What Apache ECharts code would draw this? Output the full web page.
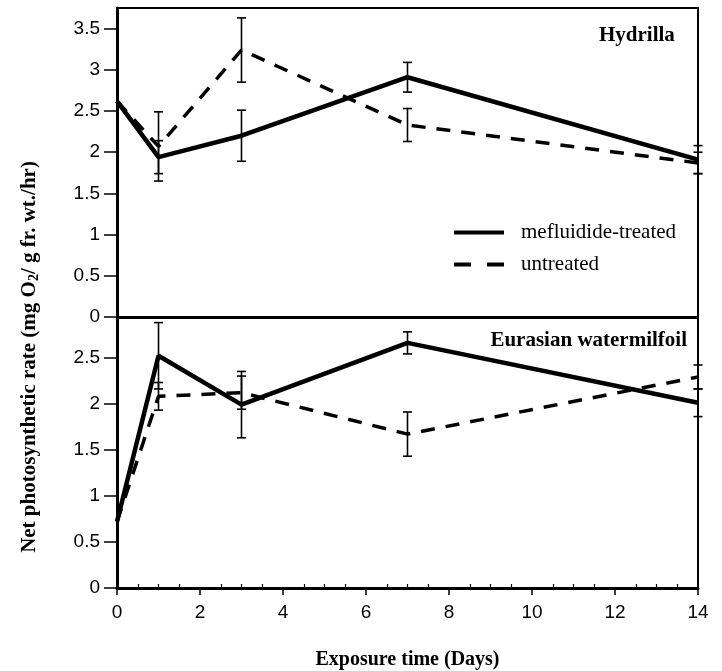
<!DOCTYPE html>
<html>
<head>
<meta charset="utf-8">
<script src="https://cdn.jsdelivr.net/npm/echarts@6/dist/echarts.min.js"></script>
<style>
  html, body { margin: 0; padding: 0; background: #fff; }
  #chart { width: 722px; height: 671px; }
</style>
</head>
<body>
<div id="chart"></div>
<script>
// days of exposure
const days = [0, 1, 3, 7, 14];

// Hydrilla
const hydTreated = [2.62, 1.94, 2.2, 2.91, 1.91];
const hydTreatedErr = [0, 0.2, 0.31, 0.18, 0.17];
const hydUntreated = [2.62, 2.07, 3.24, 2.33, 1.87];
const hydUntreatedErr = [0, 0.42, 0.39, 0.2, 0.13];

// Eurasian watermilfoil
const milTreated = [0.72, 2.52, 1.99, 2.66, 2.01];
const milTreatedErr = [0, 0.36, 0.36, 0.12, 0.15];
const milUntreated = [0.72, 2.08, 2.12, 1.67, 2.29];
const milUntreatedErr = [0, 0.15, 0.18, 0.24, 0.13];

const topTicks = [0, 0.5, 1, 1.5, 2, 2.5, 3, 3.5];
const bottomTicks = [0, 0.5, 1, 1.5, 2, 2.5];
const xTicks = [0, 2, 4, 6, 8, 10, 12, 14];

const sans = 'Liberation Sans, Arial, sans-serif';
const serif = 'Liberation Serif, Times New Roman, serif';

function pairs(vals) {
  return days.map((d, i) => [d, vals[i]]);
}
function errPairs(vals, errs) {
  const out = [];
  days.forEach((d, i) => {
    if (errs[i] > 0) out.push([d, vals[i] - errs[i], vals[i] + errs[i]]);
  });
  return out;
}

function renderErr(params, api) {
  const lo = api.coord([api.value(0), api.value(1)]);
  const hi = api.coord([api.value(0), api.value(2)]);
  const w = 4.5;
  const st = { stroke: '#000', lineWidth: 1.6 };
  return {
    type: 'group',
    children: [
      { type: 'line', shape: { x1: lo[0], y1: lo[1], x2: hi[0], y2: hi[1] }, style: st },
      { type: 'line', shape: { x1: lo[0] - w, y1: lo[1], x2: lo[0] + w, y2: lo[1] }, style: st },
      { type: 'line', shape: { x1: hi[0] - w, y1: hi[1], x2: hi[0] + w, y2: hi[1] }, style: st }
    ]
  };
}

function yAxisFor(gridIndex, max, ticks) {
  return {
    type: 'value',
    gridIndex: gridIndex,
    min: 0,
    max: max,
    interval: 0.5,
    axisLine: { show: true, lineStyle: { color: '#000', width: 3 } },
    axisTick: { show: true, length: 13, lineStyle: { color: '#000', width: 1.5 }, customValues: ticks },
    axisLabel: { color: '#000', fontFamily: sans, fontSize: 19, margin: 17, customValues: ticks },
    splitLine: { show: false }
  };
}

const solidStyle = { color: '#000', width: 4.5, type: 'solid' };
const dashStyle = { color: '#000', width: 3.5, type: [14, 11] };

const chart = echarts.init(document.getElementById('chart'));
chart.setOption({
  backgroundColor: '#fff',
  animation: false,
  grid: [
    { left: 117, width: 581, top: 8, height: 309, show: true, borderColor: '#000', borderWidth: 2, backgroundColor: 'transparent' },
    { left: 117, width: 581, top: 318, height: 272, show: true, borderColor: '#000', borderWidth: 2, backgroundColor: 'transparent' }
  ],
  xAxis: [
    {
      type: 'value', gridIndex: 0, min: 0, max: 14, interval: 2,
      axisLine: { show: true, lineStyle: { color: '#000', width: 2 } },
      axisTick: { show: false }, axisLabel: { show: false }, splitLine: { show: false }
    },
    {
      type: 'value', gridIndex: 1, min: 0, max: 14, interval: 2,
      name: 'Exposure time (Days)', nameLocation: 'middle', nameGap: 62,
      nameTextStyle: { color: '#000', fontFamily: serif, fontWeight: 'bold', fontSize: 20 },
      axisLine: { show: true, lineStyle: { color: '#000', width: 3 } },
      axisTick: { show: true, length: 7, lineStyle: { color: '#000', width: 1.5 } },
      axisLabel: { color: '#000', fontFamily: sans, fontSize: 19, margin: 15, customValues: xTicks },
      splitLine: { show: false }
    },
    {
      // minor ticks pointing into the plot
      type: 'value', gridIndex: 1, min: 0, max: 14, interval: 2, position: 'bottom',
      axisLine: { show: false },
      axisTick: { show: false, inside: true },
      minorTick: { show: true, splitNumber: 4, length: 4, lineStyle: { color: '#000', width: 1.2 } },
      axisLabel: { show: false }, splitLine: { show: false }
    }
  ],
  yAxis: [
    yAxisFor(0, 3.75, topTicks),
    yAxisFor(1, 2.93, bottomTicks)
  ],
  legend: {
    orient: 'vertical',
    left: 447,
    top: 217,
    itemWidth: 50,
    itemHeight: 14,
    itemGap: 11,
    itemStyle: { color: 'rgba(0,0,0,0)', borderWidth: 0, opacity: 0 },
    data: [
      { name: 'mefluidide-treated', lineStyle: { color: '#000', width: 4, type: 'solid' } },
      { name: 'untreated', lineStyle: { color: '#000', width: 4, type: [17, 16] } }
    ],
    textStyle: { color: '#000', fontFamily: serif, fontSize: 21, padding: [0, 0, 0, 12] }
  },
  graphic: [
    {
      type: 'text', left: 599, top: 25,
      style: { text: 'Hydrilla', fill: '#000', font: 'bold 21px ' + serif }
    },
    {
      type: 'text', right: 35, top: 330,
      style: { text: 'Eurasian watermilfoil', fill: '#000', font: 'bold 21px ' + serif }
    },
    {
      type: 'text', x: 30, y: 357, rotation: Math.PI / 2,
      style: {
        text: '{a|Net photosynthetic rate (mg O}{s|2}{a|/ g fr. wt./hr)}',
        align: 'center', verticalAlign: 'middle',
        rich: {
          a: { fill: '#000', fontFamily: serif, fontWeight: 'bold', fontSize: 21 },
          s: { fill: '#000', fontFamily: serif, fontWeight: 'bold', fontSize: 14, padding: [9, 0, 0, 0] }
        }
      }
    }
  ],
  series: [
    { name: 'mefluidide-treated', type: 'line', xAxisIndex: 0, yAxisIndex: 0, data: pairs(hydTreated), symbol: 'none', lineStyle: solidStyle, itemStyle: { color: '#000' } },
    { name: 'untreated', type: 'line', xAxisIndex: 0, yAxisIndex: 0, data: pairs(hydUntreated), symbol: 'none', lineStyle: dashStyle, itemStyle: { color: '#000' } },
    { type: 'custom', xAxisIndex: 0, yAxisIndex: 0, data: errPairs(hydTreated, hydTreatedErr), renderItem: renderErr, z: 3 },
    { type: 'custom', xAxisIndex: 0, yAxisIndex: 0, data: errPairs(hydUntreated, hydUntreatedErr), renderItem: renderErr, z: 3 },
    { name: 'mefluidide-treated', type: 'line', xAxisIndex: 1, yAxisIndex: 1, data: pairs(milTreated), symbol: 'none', lineStyle: solidStyle, itemStyle: { color: '#000' } },
    { name: 'untreated', type: 'line', xAxisIndex: 1, yAxisIndex: 1, data: pairs(milUntreated), symbol: 'none', lineStyle: dashStyle, itemStyle: { color: '#000' } },
    { type: 'custom', xAxisIndex: 1, yAxisIndex: 1, data: errPairs(milTreated, milTreatedErr), renderItem: renderErr, z: 3 },
    { type: 'custom', xAxisIndex: 1, yAxisIndex: 1, data: errPairs(milUntreated, milUntreatedErr), renderItem: renderErr, z: 3 }
  ]
});
</script>
</body>
</html>
